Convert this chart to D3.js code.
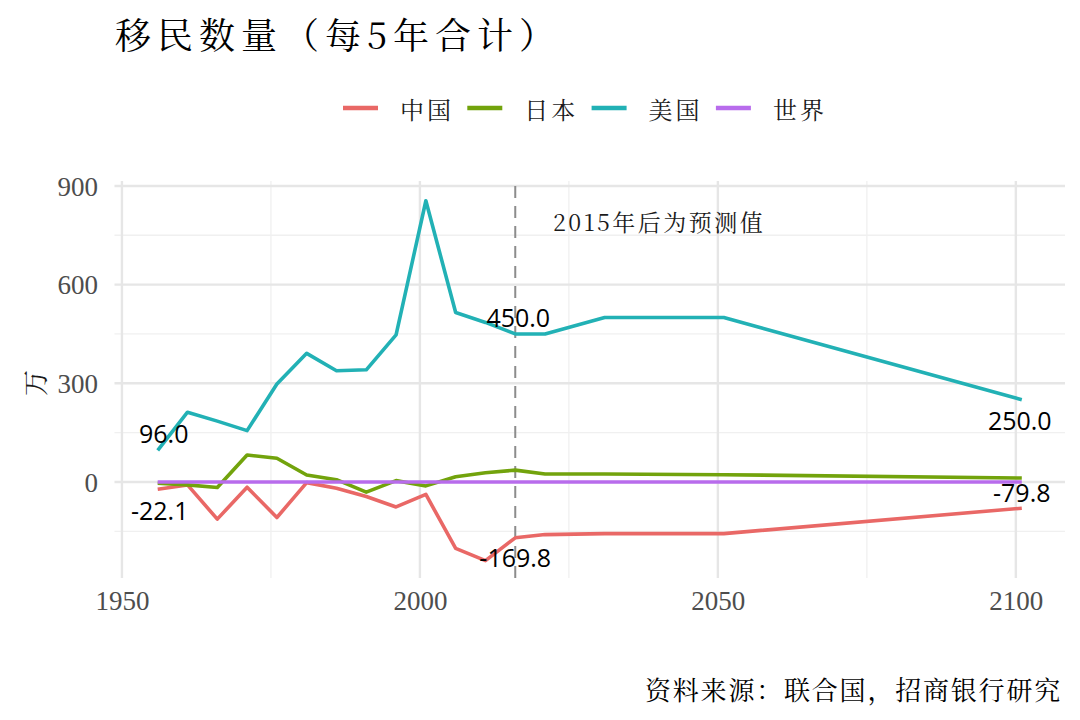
<!DOCTYPE html>
<html>
<head>
<meta charset="utf-8">
<script src="https://cdn.jsdelivr.net/npm/d3@7"></script>
<style>
  body { margin: 0; background: #fff; overflow: hidden; }
</style>
</head>
<body>
<script>
// data (unit: 万)
var years = [1956, 1961, 1966, 1971, 1976, 1981, 1986, 1991, 1996, 2001, 2006, 2011, 2016, 2021, 2031, 2051, 2101];
var china = [-22.1, -9, -113, -16, -108, -2, -19, -44, -76, -38, -202, -239, -169.8, -160, -157, -157, -79.8];
var japan = [-4, -9, -17, 82, 72, 21, 7, -31, 4, -12, 16, 28, 36, 24, 24, 22, 12];
var usa = [96.0, 212, 185, 156, 298, 391, 338, 341, 447, 855, 515, 485, 450.0, 450, 500, 500, 250.0];
var world = [0, 0, 0, 0, 0, 0, 0, 0, 0, 0, 0, 0, 0, 0, 0, 0, 0];

var seriesNames = ["中国", "日本", "美国", "世界"];
var seriesValues = [china, japan, usa, world];
var colors = ["#E96866", "#72A30C", "#22B1B5", "#B86CEC"];

var xTicks = [1950, 2000, 2050, 2100];
var xMinor = [1975, 2025, 2075];
var yTicks = [0, 300, 600, 900];
var yMinor = [-150, 150, 450, 750];
var forecastYear = 2016;

// which points get a value label: [series index, point index]
var labelPoints = [[2, 0], [0, 0], [2, 12], [0, 12], [2, 16], [0, 16]];

var cjk = "'Noto Serif CJK SC', 'Noto Sans CJK SC', serif";
var serif = "'Liberation Serif', 'DejaVu Serif', serif";

var svg = d3.select("body").append("svg")
    .attr("width", 1080)
    .attr("height", 720);

var x = d3.scaleLinear().domain([1948.75, 2108.25]).range([114.5, 1065]);
var y = d3.scaleLinear().domain([-292, 915]).range([578, 181]);

//Grid lines
var grid = svg.append("g");
grid.selectAll(".ymin").data(yMinor).enter().append("line")
    .attr("x1", x.range()[0]).attr("x2", x.range()[1])
    .attr("y1", d => y(d)).attr("y2", d => y(d))
    .attr("stroke", "#f0f0f0").attr("stroke-width", 1.3);
grid.selectAll(".xmin").data(xMinor).enter().append("line")
    .attr("y1", y.range()[0]).attr("y2", y.range()[1])
    .attr("x1", d => x(d)).attr("x2", d => x(d))
    .attr("stroke", "#f0f0f0").attr("stroke-width", 1.3);
grid.selectAll(".ymaj").data(yTicks).enter().append("line")
    .attr("x1", x.range()[0]).attr("x2", x.range()[1])
    .attr("y1", d => y(d)).attr("y2", d => y(d))
    .attr("stroke", "#e6e6e6").attr("stroke-width", 2.4);
grid.selectAll(".xmaj").data(xTicks).enter().append("line")
    .attr("y1", y.range()[0]).attr("y2", y.range()[1])
    .attr("x1", d => x(d)).attr("x2", d => x(d))
    .attr("stroke", "#e6e6e6").attr("stroke-width", 2.4);

//Axes (labels only, theme_minimal style)
var xAxis = svg.append("g")
    .attr("transform", "translate(0,590)")
    .call(d3.axisBottom(x).tickValues(xTicks).tickFormat(d3.format("d")).tickSize(0));
var yAxis = svg.append("g")
    .attr("transform", "translate(110,0)")
    .call(d3.axisLeft(y).tickValues(yTicks).tickSize(0));
[xAxis, yAxis].forEach(function (a) {
    a.select(".domain").remove();
    a.selectAll("text")
        .attr("font-family", serif)
        .attr("font-size", 27)
        .attr("fill", "#4d4d4d");
});
xAxis.selectAll("text").attr("dy", "0.62em");
yAxis.selectAll("text").attr("x", -12).attr("dy", "0.34em");

//Forecast marker
svg.append("line")
    .attr("x1", x(forecastYear)).attr("x2", x(forecastYear))
    .attr("y1", y.range()[0]).attr("y2", y.range()[1])
    .attr("stroke", "#8c8c8c")
    .attr("stroke-width", 2)
    .attr("stroke-dasharray", "12 8");
svg.append("text")
    .attr("x", 553).attr("y", 221)
    .attr("dominant-baseline", "central")
    .attr("font-family", cjk)
    .attr("font-size", 23)
    .attr("letter-spacing", 2.5)
    .attr("fill", "#1a1a1a")
    .text("2015年后为预测值");

//Lines
var lineGenerator = d3.line()
    .x((d, i) => x(years[i]))
    .y(d => y(d));

svg.selectAll(".series").data(seriesValues).enter().append("path")
    .attr("d", d => lineGenerator(d))
    .attr("fill", "none")
    .attr("stroke", (d, i) => colors[i])
    .attr("stroke-width", 3.6)
    .attr("stroke-linejoin", "round");

//Value labels
var labelShift = [[6, -17], [2, 21], [3, -17], [0, 19], [-2, 20], [0, -16]];
svg.selectAll(".vlabel").data(labelPoints).enter().append("text")
    .attr("x", (d, i) => x(years[d[1]]) + labelShift[i][0])
    .attr("y", (d, i) => y(seriesValues[d[0]][d[1]]) + labelShift[i][1])
    .attr("text-anchor", "middle")
    .attr("dominant-baseline", "central")
    .attr("font-family", "'Open Sans', 'Noto Sans', sans-serif")
    .attr("font-size", 25)
    .attr("fill", "#000")
    .text(d => seriesValues[d[0]][d[1]].toFixed(1));

//Y title
svg.append("text")
    .attr("transform", "translate(33,383) rotate(-90)")
    .attr("text-anchor", "middle")
    .attr("dominant-baseline", "central")
    .attr("font-family", cjk)
    .attr("font-size", 26)
    .attr("fill", "#1a1a1a")
    .text("万");

//Legend
var legend = svg.selectAll(".legend").data(seriesNames).enter().append("g")
    .attr("transform", (d, i) => "translate(" + (343 + i * 124.3) + ",108)");
legend.append("line")
    .attr("x1", 0).attr("x2", 35)
    .attr("stroke", (d, i) => colors[i])
    .attr("stroke-width", 4.5);
legend.append("text")
    .attr("x", 57)
    .attr("dominant-baseline", "central")
    .attr("font-family", cjk)
    .attr("font-size", 24)
    .attr("letter-spacing", 3)
    .attr("fill", "#1a1a1a")
    .text(d => d);

//Title and source
svg.append("text")
    .attr("x", 115).attr("y", 33)
    .attr("dominant-baseline", "central")
    .attr("font-family", cjk)
    .attr("font-size", 36)
    .attr("letter-spacing", 6)
    .attr("fill", "#000")
    .text("移民数量（每5年合计）");

svg.append("text")
    .attr("x", 1062).attr("y", 688)
    .attr("text-anchor", "end")
    .attr("dominant-baseline", "central")
    .attr("font-family", cjk)
    .attr("font-size", 26)
    .attr("letter-spacing", 1.8)
    .attr("fill", "#000")
    .text("资料来源：联合国，招商银行研究");
</script>
</body>
</html>
